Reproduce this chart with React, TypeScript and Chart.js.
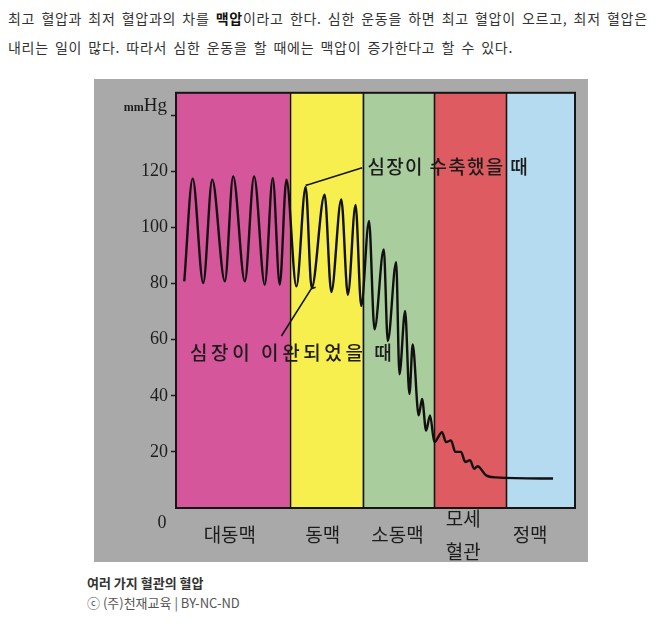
import React, { useEffect, useRef } from "react";
import { Chart, registerables } from "chart.js";

Chart.register(...registerables);

// ---- data ----
// x = position along the vessel path (0..400), y = blood pressure (mmHg)
const bandEdges = [0, 114, 187, 259, 331, 400];
const bandColors = ["#d5569b", "#f7ef4d", "#aacd9d", "#de5b61", "#b5dbf1"];
const vesselLabels: (string | string[])[] = ["대동맥", "동맥", "소동맥", ["모세", "혈관"], "정맥"];
const vesselLabelPos = [54, 147, 222, 288, 355];
const yTickValues = [0, 20, 40, 60, 80, 100, 120, 140];

const pressureX = [
  8.3, 16.7, 27.3, 36.3, 49, 57.3, 69, 78.3, 89, 97, 104, 110.7,
  120.7, 130, 136, 149, 155.7, 165.7, 172.3, 180, 185.7,
  193.5, 199, 208.3, 212.3, 220.7, 224, 229.7, 234, 237.3, 243.3, 246.7, 250.7, 254.7, 259,
  266.7, 270.7, 275.7, 280, 285.7, 290, 294.7, 299, 302.3, 310.7, 320.7, 378,
];
const pressureY = [
  80.8, 117.4, 80.2, 117, 80.8, 118.2, 80.8, 118.2, 79.6, 117.6, 79.6, 117,
  79, 114.4, 78.4, 111.7, 77, 110, 76, 108, 72,
  102.3, 63.7, 92.2, 59.5, 87.6, 47.7, 70.2, 40.6, 58.3, 33, 38.9, 27.6, 33, 23.5,
  27, 23.5, 24.1, 20, 20, 16.4, 17, 14, 14.9, 11.7, 10.9, 10.5,
];

const systoleLeaderX = [130, 134, 186.7];
const systoleLeaderY = [115, 115.4, 121.3];
const diastoleLeaderX = [105.7, 135.7, 140];
const diastoleLeaderY = [61.3, 78.2, 78.7];

const systoleText = "심장이 수축했을 때";
const systoleTextPos = [192, 121.6];
const diastoleText = "심장이 이완되었을 때";
const diastoleTextPos = [14, 55.4];

const introLines = [
  ["최고 혈압과 최저 혈압과의 차를 ", "맥압", "이라고 한다. 심한 운동을 하면 최고 혈압이 오르고, 최저 혈압은"],
  ["내리는 일이 많다. 따라서 심한 운동을 할 때에는 맥압이 증가한다고 할 수 있다."],
];
const captionTitle = "여러 가지 혈관의 혈압";
const captionCredit = "ⓒ (주)천재교육 | BY-NC-ND";

const KR = '"Noto Sans CJK KR", "Noto Sans", sans-serif';
const SERIF = '"Liberation Serif", "DejaVu Serif", serif';

const toPoints = (xs: number[], ys: number[]) => xs.map((x, i) => ({ x, y: ys[i] }));

const decorPlugin = {
  id: "decor",
  beforeDraw(chart: any) {
    const { ctx, width, height } = chart;
    ctx.save();
    ctx.fillStyle = "#a9a9a9";
    ctx.fillRect(0, 0, width, height);
    ctx.restore();
  },
  beforeDatasetsDraw(chart: any) {
    const { ctx, chartArea } = chart;
    const xs = chart.scales.x;
    ctx.save();
    for (let i = 0; i < bandColors.length; i++) {
      const x0 = xs.getPixelForValue(bandEdges[i]);
      const x1 = xs.getPixelForValue(bandEdges[i + 1]);
      ctx.fillStyle = bandColors[i];
      ctx.fillRect(x0, chartArea.top, x1 - x0, chartArea.bottom - chartArea.top);
    }
    ctx.strokeStyle = "#151515";
    ctx.lineWidth = 1.6;
    for (let i = 1; i < bandEdges.length - 1; i++) {
      const x = Math.round(xs.getPixelForValue(bandEdges[i])) + 0.5;
      ctx.beginPath();
      ctx.moveTo(x, chartArea.top);
      ctx.lineTo(x, chartArea.bottom);
      ctx.stroke();
    }
    ctx.lineWidth = 2;
    ctx.strokeRect(chartArea.left, chartArea.top, chartArea.right - chartArea.left, chartArea.bottom - chartArea.top);
    ctx.restore();
  },
  afterDatasetsDraw(chart: any) {
    const { ctx, chartArea } = chart;
    const xs = chart.scales.x;
    const ys = chart.scales.y;
    ctx.save();
    ctx.fillStyle = "#1c1c1c";
    ctx.textBaseline = "middle";
    ctx.textAlign = "left";
    ctx.font = `500 19px ${KR}`;
    (ctx as any).letterSpacing = "1.3px";
    ctx.fillText(systoleText, xs.getPixelForValue(systoleTextPos[0]), ys.getPixelForValue(systoleTextPos[1]));
    (ctx as any).letterSpacing = "3.6px";
    ctx.fillText(diastoleText, xs.getPixelForValue(diastoleTextPos[0]), ys.getPixelForValue(diastoleTextPos[1]));
    (ctx as any).letterSpacing = "0px";

    // axis extras: "0" and "mmHg"
    ctx.fillStyle = "#1c1c1c";
    ctx.font = `18px ${SERIF}`;
    ctx.textAlign = "center";
    ctx.fillText("0", chartArea.left - 14, ys.getPixelForValue(0) + 15);
    const yTop = ys.getPixelForValue(140) - 4.5;
    ctx.textBaseline = "alphabetic";
    ctx.textAlign = "right";
    ctx.font = `19px ${SERIF}`;
    const hgRight = chartArea.left - 9;
    ctx.fillText("Hg", hgRight, yTop);
    const hgW = ctx.measureText("Hg").width;
    ctx.font = `bold 12px ${SERIF}`;
    ctx.fillText("mm", hgRight - hgW, yTop);
    ctx.restore();
  },
};

export default function App() {
  const canvasRef = useRef<HTMLCanvasElement | null>(null);

  useEffect(() => {
    if (!canvasRef.current) return;
    const chart = new Chart(canvasRef.current, {
      type: "line",
      data: {
        datasets: [
          {
            data: toPoints(pressureX, pressureY),
            borderColor: "#111111",
            borderWidth: 2.4,
            pointRadius: 0,
            fill: false,
            cubicInterpolationMode: "monotone",
          },
          {
            data: toPoints(systoleLeaderX, systoleLeaderY),
            borderColor: "#151515",
            borderWidth: 1.6,
            pointRadius: 0,
            tension: 0,
          },
          {
            data: toPoints(diastoleLeaderX, diastoleLeaderY),
            borderColor: "#151515",
            borderWidth: 1.6,
            pointRadius: 0,
            tension: 0,
          },
        ],
      },
      options: {
        animation: false,
        responsive: false,
        devicePixelRatio: 1,
        layout: { padding: { left: 0, top: 12, right: 13, bottom: 0 } },
        plugins: { legend: { display: false }, tooltip: { enabled: false } },
        scales: {
          x: {
            type: "linear",
            min: 0,
            max: 400,
            afterFit: (s: any) => {
              s.height = 54;
            },
            afterBuildTicks: (s: any) => {
              s.ticks = vesselLabelPos.map((v) => ({ value: v }));
            },
            ticks: {
              autoSkip: false,
              maxRotation: 0,
              minRotation: 0,
              padding: 3,
              crossAlign: "center",
              color: "#1c1c1c",
              font: { family: KR, size: 19, lineHeight: 1.7 },
              callback: (_v: any, i: number) => vesselLabels[i],
            },
            grid: { display: false },
            border: { display: false },
          },
          y: {
            type: "linear",
            min: 0,
            max: 148,
            afterFit: (s: any) => {
              s.width = 82;
            },
            afterBuildTicks: (s: any) => {
              s.ticks = yTickValues.map((v) => ({ value: v }));
            },
            ticks: {
              padding: 3,
              color: "#1c1c1c",
              font: { family: SERIF, size: 18 },
              callback: (v: any) => (v === 0 || v === 140 ? "" : String(v)),
            },
            grid: {
              drawOnChartArea: false,
              tickLength: 5,
              tickWidth: 1.5,
              tickColor: (c: any) => (c.tick && c.tick.value === 0 ? "rgba(0,0,0,0)" : "#1c1c1c"),
            },
            border: { display: false },
          },
        },
      },
      plugins: [decorPlugin],
    } as any);
    return () => chart.destroy();
  }, []);

  return (
    <div style={{ position: "relative", width: 651, height: 614, fontFamily: KR }}>
      <div
        style={{
          position: "absolute",
          left: 0,
          top: -4,
          width: 660,
          fontSize: 14,
          lineHeight: "29px",
          color: "#333",
          letterSpacing: "0.7px",
          wordSpacing: "2.4px",
          whiteSpace: "nowrap",
        }}
      >
        <div>
          {introLines[0][0]}
          <b style={{ color: "#111" }}>{introLines[0][1]}</b>
          {introLines[0][2]}
        </div>
        <div>{introLines[1][0]}</div>
      </div>
      <div style={{ position: "absolute", left: 86, top: 71, width: 494, height: 483 }}>
        <canvas ref={canvasRef} width={494} height={483} style={{ display: "block" }} />
      </div>
      <div
        style={{
          position: "absolute",
          left: 79,
          top: 565,
          fontSize: 13,
          lineHeight: "20px",
          fontWeight: 700,
          color: "#333",
          whiteSpace: "nowrap",
        }}
      >
        {captionTitle}
      </div>
      <div
        style={{
          position: "absolute",
          left: 79,
          top: 585,
          fontSize: 13,
          lineHeight: "20px",
          color: "#555",
          whiteSpace: "nowrap",
        }}
      >
        {captionCredit}
      </div>
    </div>
  );
}
